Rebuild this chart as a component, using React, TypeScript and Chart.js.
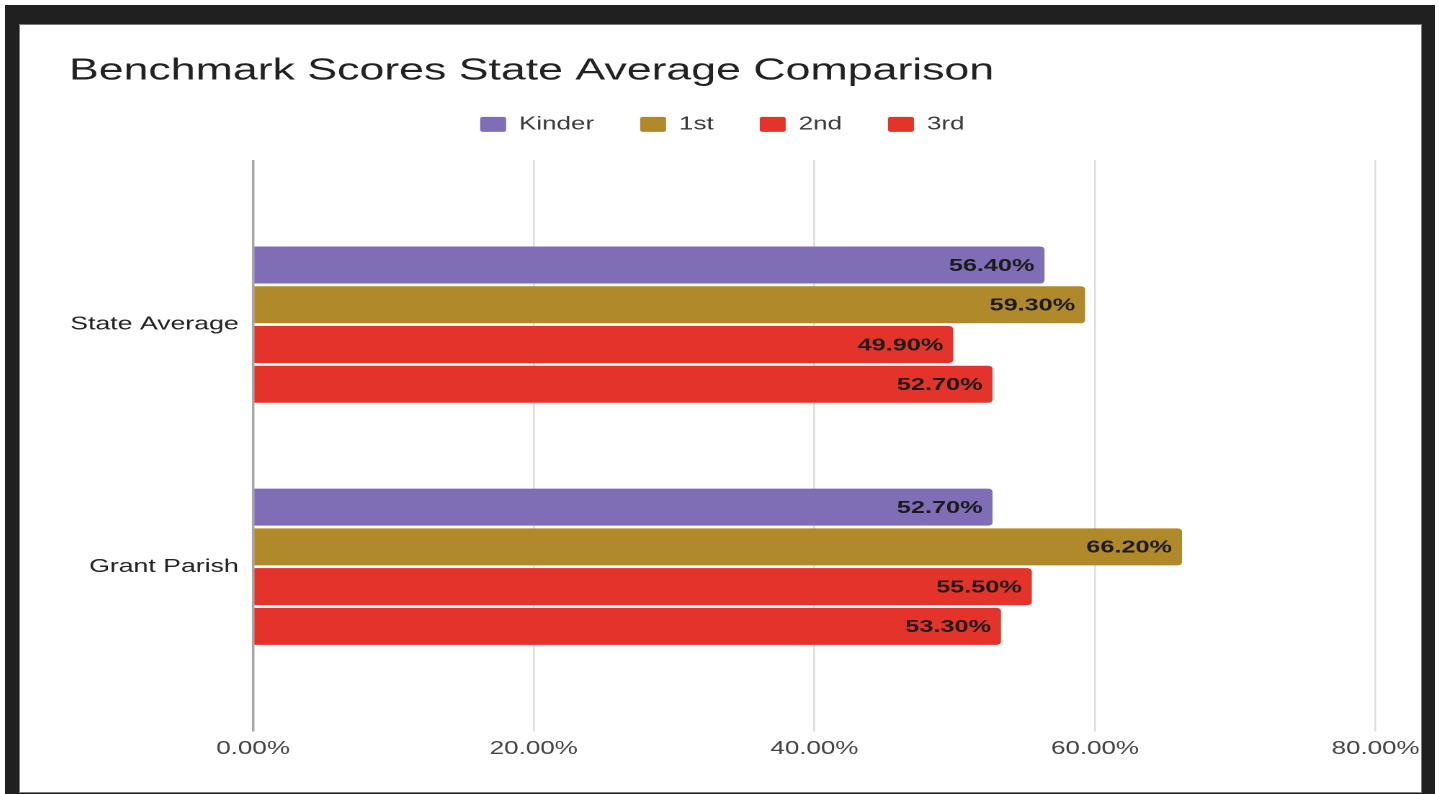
import React, { useEffect, useRef } from "react";
import { Chart, registerables } from "chart.js";

Chart.register(...registerables);

const TITLE = "Benchmark Scores State Average Comparison";
const CATEGORIES = ["State Average", "Grant Parish"];
const SERIES_NAMES = ["Kinder", "1st", "2nd", "3rd"];
const KINDER = [56.4, 52.7];
const FIRST = [59.3, 66.2];
const SECOND = [49.9, 55.5];
const THIRD = [52.7, 53.3];
const SERIES_VALUES = [KINDER, FIRST, SECOND, THIRD];
const SERIES_COLORS = ["#7f6db6", "#b0892b", "#e4332a", "#e4332a"];
const X_TICKS = [0, 20, 40, 60, 80];

const FONT = '"Liberation Sans", Arial, Helvetica, sans-serif';
const STRETCH = 1.44;
const PANEL_W = 1401;
const PANEL_H = 767;

const barValueLabels = {
  id: "barValueLabels",
  afterDatasetsDraw(chart: any) {
    const { ctx } = chart;
    ctx.save();
    ctx.font = `bold 17.5px ${FONT}`;
    ctx.fillStyle = "#1b1b1b";
    ctx.textAlign = "right";
    ctx.textBaseline = "middle";
    chart.data.datasets.forEach((ds: any, i: number) => {
      const meta = chart.getDatasetMeta(i);
      meta.data.forEach((bar: any, j: number) => {
        const v = ds.data[j].x;
        ctx.fillText(`${v.toFixed(2)}%`, bar.x - 7, bar.y + 1);
      });
    });
    ctx.restore();
  },
};

export default function App() {
  const canvasRef = useRef<HTMLCanvasElement | null>(null);

  useEffect(() => {
    if (!canvasRef.current) return;
    Chart.defaults.font.family = FONT;
    const datasets = SERIES_NAMES.map((name, si) => ({
      label: name,
      data: CATEGORIES.map((_, ci) => ({ x: SERIES_VALUES[si][ci], y: ci })),
      backgroundColor: SERIES_COLORS[si],
      borderWidth: 0,
      borderRadius: 3,
      categoryPercentage: 0.657,
      barPercentage: 0.93,
    }));
    const chart = new Chart(canvasRef.current, {
      type: "bar",
      data: { datasets },
      plugins: [barValueLabels],
      options: {
        indexAxis: "y",
        animation: false,
        responsive: true,
        maintainAspectRatio: false,
        devicePixelRatio: 2,
        layout: { padding: { left: 34, right: 32, top: 0, bottom: 25 } },
        plugins: {
          title: {
            display: true,
            text: TITLE,
            align: "start",
            color: "#222222",
            font: { size: 31, weight: "normal", lineHeight: 0.8 },
            padding: { top: 33.6, bottom: 0 },
          },
          legend: {
            display: true,
            position: "top",
            align: "center",
            labels: {
              boxWidth: 18,
              boxHeight: 15,
              padding: 32,
              color: "#3a3a3a",
              font: { size: 18 },
              useBorderRadius: true,
              borderRadius: 2,
            },
          },
          tooltip: { enabled: false },
        },
        scales: {
          x: {
            type: "linear",
            position: "bottom",
            min: 0,
            max: 80,
            afterBuildTicks: (s: any) => {
              s.ticks = X_TICKS.map((v) => ({ value: v }));
            },
            afterFit: (s: any) => {
              s.paddingRight = 0;
              s.paddingLeft = 0;
            },
            ticks: {
              callback: (v: any) => `${Number(v).toFixed(2)}%`,
              color: "#444444",
              font: { size: 18 },
              padding: 7,
              maxRotation: 0,
            },
            grid: {
              drawTicks: false,
              color: (c: any) => (c.tick && c.tick.value === 0 ? "#a4a4a4" : "#dedede"),
              lineWidth: (c: any) => (c.tick && c.tick.value === 0 ? 1.7 : 1.3),
            },
            border: { display: false },
          },
          xTop: {
            type: "linear",
            position: "top",
            display: true,
            ticks: { display: false },
            grid: { display: false, drawTicks: false },
            border: { display: false },
            afterFit: (s: any) => {
              s.height = 16.6;
            },
          },
          y: {
            type: "linear",
            reverse: true,
            offset: false,
            min: -0.68,
            max: 1.68,
            afterBuildTicks: (s: any) => {
              s.ticks = CATEGORIES.map((_, i) => ({ value: i }));
            },
            ticks: {
              callback: (v: any) => CATEGORIES[v] ?? "",
              color: "#222222",
              font: { size: 18.5 },
              padding: 10,
            },
            grid: { display: false, drawTicks: false, offset: false },
            border: { display: false },
            afterFit: (s: any) => {
              s.width = 127.8;
            },
          },
        },
      } as any,
    });
    return () => chart.destroy();
  }, []);

  return (
    <div style={{ position: "fixed", inset: 0, background: "#ffffff", overflow: "hidden" }}>
      <div
        style={{
          position: "absolute",
          left: 5,
          top: 5,
          width: 1430,
          height: 789,
          background: "#202020",
        }}
      />
      <div
        style={{
          position: "absolute",
          left: 20,
          top: 25,
          width: PANEL_W,
          height: PANEL_H,
          background: "#ffffff",
          overflow: "hidden",
          boxShadow: "0 0 0 1px #7a7a7a",
        }}
      >
        <div
          style={{
            position: "relative",
            width: PANEL_W / STRETCH,
            height: PANEL_H,
            transform: `scaleX(${STRETCH})`,
            transformOrigin: "0 0",
          }}
        >
          <canvas ref={canvasRef} />
        </div>
      </div>
    </div>
  );
}
